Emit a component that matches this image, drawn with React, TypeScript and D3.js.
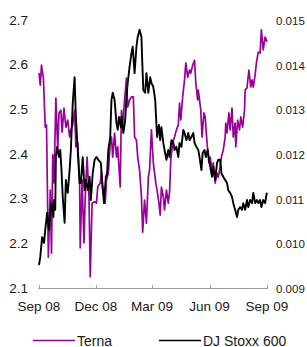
import React from "react";
import * as d3 from "d3";

// days since 1 Sep 2008, share price / index ratio
const startDate = new Date(2008, 8, 1);

const ternaSeries: [number, number][] = [
  [0, 2.581], [2, 2.554], [4, 2.599], [7, 2.57], [10, 2.46], [12, 2.465], [15, 2.169], [18, 2.319],
  [20, 2.178], [22, 2.398], [24, 2.335], [27, 2.525], [30, 2.409], [32, 2.492], [35, 2.498], [37, 2.449],
  [40, 2.503], [43, 2.46], [46, 2.476], [49, 2.438], [51, 2.454], [54, 2.465], [57, 2.498], [59, 2.416],
  [62, 2.425], [65, 2.335], [66, 2.19], [69, 2.342], [72, 2.201], [74, 2.304], [77, 2.393], [80, 2.304],
  [82, 2.125], [85, 2.29], [89, 2.293], [92, 2.29], [94, 2.326], [98, 2.335], [100, 2.36], [102, 2.319],
  [106, 2.29], [108, 2.342], [111, 2.357], [114, 2.425], [116, 2.438], [118, 2.393], [121, 2.447], [124, 2.393],
  [126, 2.416], [130, 2.326], [132, 2.498], [134, 2.465], [137, 2.521], [140, 2.57], [142, 2.505], [145, 2.521],
  [148, 2.528], [151, 2.528], [153, 2.438], [156, 2.431], [158, 2.393], [161, 2.364], [164, 2.304], [166, 2.225],
  [169, 2.297], [172, 2.245], [175, 2.348], [177, 2.364], [180, 2.454], [183, 2.38], [187, 2.335], [189, 2.319],
  [192, 2.29], [194, 2.263], [196, 2.326], [199, 2.304], [201, 2.275], [204, 2.319], [207, 2.29], [209, 2.315],
  [211, 2.387], [214, 2.425], [217, 2.438], [220, 2.454], [223, 2.465], [225, 2.514], [227, 2.476], [230, 2.528],
  [233, 2.566], [235, 2.604], [238, 2.572], [241, 2.588], [243, 2.581], [246, 2.599], [249, 2.61], [251, 2.559],
  [254, 2.521], [255, 2.543], [259, 2.498], [261, 2.438], [264, 2.492], [266, 2.483], [269, 2.425], [272, 2.38],
  [274, 2.393], [277, 2.364], [279, 2.38], [282, 2.335], [285, 2.357], [287, 2.348], [290, 2.371], [292, 2.393],
  [295, 2.409], [298, 2.438], [299, 2.469], [301, 2.447], [304, 2.492], [306, 2.454], [309, 2.503], [311, 2.438],
  [314, 2.469], [315, 2.416], [318, 2.476], [321, 2.454], [323, 2.483], [326, 2.46], [329, 2.498], [330, 2.543],
  [333, 2.548], [336, 2.588], [339, 2.55], [341, 2.566], [343, 2.55], [346, 2.577], [348, 2.604], [351, 2.628],
  [354, 2.626], [356, 2.678], [359, 2.633], [362, 2.662], [365, 2.651],
];

const stoxxSeries: [number, number][] = [
  [0, 0.00951], [2, 0.00969], [5, 0.01014], [8, 0.01001], [10, 0.0103], [13, 0.01068], [16, 0.0103], [18, 0.01068],
  [20, 0.0109], [23, 0.01059], [24, 0.01097], [26, 0.01075], [27, 0.01193], [29, 0.01216], [32, 0.01193], [34, 0.01209],
  [36, 0.01164], [38, 0.01104], [41, 0.01046], [43, 0.01142], [46, 0.01113], [49, 0.01164], [51, 0.01209], [54, 0.01314],
  [57, 0.01372], [59, 0.01283], [62, 0.01209], [65, 0.01135], [67, 0.01135], [70, 0.01193], [73, 0.01119], [75, 0.01142],
  [78, 0.01119], [81, 0.01149], [83, 0.01097], [86, 0.01157], [89, 0.01187], [92, 0.01193], [95, 0.01187], [99, 0.0118],
  [101, 0.01142], [104, 0.0109], [107, 0.01149], [109, 0.01157], [111, 0.01209], [114, 0.01238], [116, 0.01321], [118, 0.01337],
  [121, 0.01321], [124, 0.01269], [126, 0.01254], [128, 0.01283], [131, 0.0126], [132, 0.01283], [135, 0.01247], [138, 0.01276],
  [140, 0.01328], [142, 0.01359], [145, 0.01395], [148, 0.01426], [150, 0.0144], [153, 0.01381], [156, 0.0144], [158, 0.01462],
  [161, 0.01478], [164, 0.01462], [165, 0.01417], [167, 0.01343], [170, 0.01337], [172, 0.01381], [175, 0.01337], [178, 0.01372],
  [180, 0.01359], [183, 0.0135], [186, 0.01321], [189, 0.01238], [192, 0.01265], [194, 0.01231], [196, 0.0126], [199, 0.01225],
  [201, 0.01209], [204, 0.01187], [207, 0.01209], [209, 0.01193], [212, 0.01231], [215, 0.01225], [217, 0.01209], [220, 0.01216],
  [223, 0.01193], [225, 0.01225], [228, 0.01216], [231, 0.01254], [233, 0.01247], [236, 0.01231], [239, 0.01247], [241, 0.01231],
  [244, 0.01238], [247, 0.01247], [249, 0.01225], [252, 0.01216], [255, 0.01209], [257, 0.01193], [260, 0.01164], [262, 0.01202],
  [265, 0.01209], [267, 0.01193], [270, 0.01209], [273, 0.0118], [277, 0.01149], [279, 0.01171], [282, 0.01142], [285, 0.0118],
  [287, 0.01187], [290, 0.01187], [292, 0.01157], [295, 0.01149], [298, 0.01142], [301, 0.01135], [303, 0.01119], [306, 0.01113],
  [309, 0.01104], [311, 0.0109], [314, 0.01075], [317, 0.01059], [319, 0.01075], [322, 0.01081], [325, 0.01075], [327, 0.0109],
  [330, 0.01075], [333, 0.01097], [335, 0.01081], [338, 0.01097], [341, 0.0109], [343, 0.01113], [346, 0.0109], [349, 0.01097],
  [351, 0.0109], [354, 0.01097], [356, 0.01081], [359, 0.01097], [362, 0.0109], [364, 0.01108], [365, 0.01113],
];

const leftTicks = [2.1, 2.2, 2.3, 2.4, 2.5, 2.6, 2.7];
const rightTicks = [0.009, 0.01, 0.011, 0.012, 0.013, 0.014, 0.015];
const xTickLabels = ["Sep 08", "Dec 08", "Mar 09", "Jun 09", "Sep 09"];
const xTickDates = [new Date(2008, 8, 1), new Date(2008, 11, 1), new Date(2009, 2, 1), new Date(2009, 5, 1), new Date(2009, 8, 1)];

const W = 307;
const H = 347;
const TERNA = "#990099";
const FONT = "'Liberation Sans', Arial, sans-serif";

export default function App() {
  const x = d3.scaleTime().domain([startDate, new Date(2009, 8, 1)]).range([39, 267]);
  const yL = d3.scaleLinear().domain([2.1, 2.7]).range([288, 20]);
  const yR = d3.scaleLinear().domain([0.009, 0.015]).range([288, 20]);

  const day = (d: number) => d3.timeDay.offset(startDate, d);

  const ternaLine = d3.line<[number, number]>()
    .x((d) => x(day(d[0])))
    .y((d) => yL(d[1]));
  const stoxxLine = d3.line<[number, number]>()
    .x((d) => x(day(d[0])))
    .y((d) => yR(d[1]));

  const fmtL = d3.format(".1f");
  const fmtR = d3.format(".3f");

  return (
    <svg width={W} height={H} style={{ position: "absolute", left: 0, top: 0, background: "#fff" }} fontFamily={FONT}>
      {/* category axis */}
      <line x1={38.5} x2={267.5} y1={288.5} y2={288.5} stroke="#9a9a9a" strokeWidth={1} />
      {xTickDates.map((d, i) => (
        <line key={"t" + i} x1={Math.round(x(d)) + 0.5} x2={Math.round(x(d)) + 0.5} y1={285} y2={289} stroke="#9a9a9a" />
      ))}
      {xTickDates.map((d, i) => (
        <text key={"xl" + i} x={x(d)} y={311} textAnchor="middle" fontSize={13.5} fill="#1a1a1a">
          {xTickLabels[i]}
        </text>
      ))}

      {leftTicks.map((t) => (
        <text key={"l" + t} x={28} y={yL(t)} dy="0.35em" textAnchor="end" fontSize={13.5} fill="#1a1a1a">
          {fmtL(t)}
        </text>
      ))}
      {rightTicks.map((t) => (
        <text key={"r" + t} x={276} y={yR(t) + 1} dy="0.35em" textAnchor="start" fontSize={11.5} fill="#1a1a1a">
          {fmtR(t)}
        </text>
      ))}

      <path d={ternaLine(ternaSeries) || ""} fill="none" stroke={TERNA} strokeWidth={1.7} strokeLinejoin="round" />
      <path d={stoxxLine(stoxxSeries) || ""} fill="none" stroke="#000" strokeWidth={1.9} strokeLinejoin="round" />

      {/* legend */}
      <line x1={33} x2={75} y1={340.5} y2={340.5} stroke={TERNA} strokeWidth={1.5} />
      <text x={77} y={345.5} fontSize={14} fill="#1a1a1a">Terna</text>
      <line x1={159} x2={201} y1={340.5} y2={340.5} stroke="#000" strokeWidth={1.5} />
      <text x={203} y={345.5} fontSize={14} fill="#1a1a1a">DJ Stoxx 600</text>
    </svg>
  );
}
